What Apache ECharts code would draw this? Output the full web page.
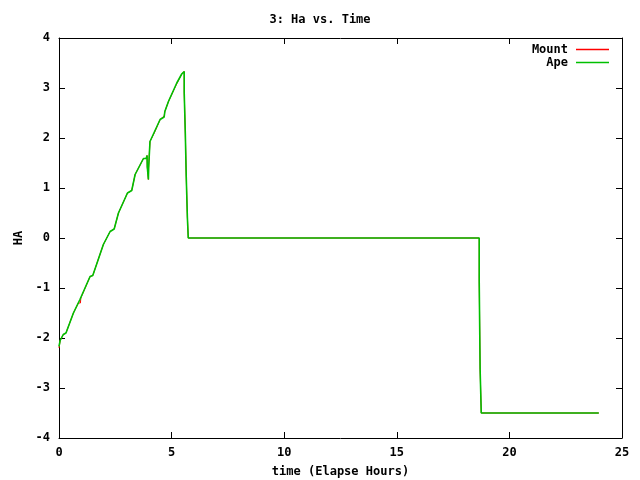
<!DOCTYPE html>
<html>
<head>
<meta charset="utf-8">
<script src="https://cdn.jsdelivr.net/npm/echarts@6/dist/echarts.min.js"></script>
<style>html,body{margin:0;padding:0;background:#fff}#c{width:640px;height:480px}</style>
</head>
<body>
<div id="c"></div>
<script>
const titleText = "3: Ha vs. Time";
const xLabel = "time (Elapse Hours)";
const yLabel = "HA";
const seriesNames = ["Mount", "Ape"];

const apeTime = [0.00,0.05,0.19,0.31,0.64,0.93,1.38,1.50,1.97,2.27,2.45,2.64,3.04,3.23,3.38,3.75,3.87,3.91,3.92,3.97,3.98,4.02,4.04,4.49,4.67,4.70,4.86,5.23,5.45,5.56,5.56,5.61,5.61,5.65,5.65,5.70,5.70,5.74,5.74,18.66,18.66,18.70,18.70,18.75,18.75,23.97];
const apeHa   = [-2.17,-2.05,-1.93,-1.90,-1.50,-1.23,-0.77,-0.75,-0.13,0.13,0.18,0.50,0.90,0.95,1.27,1.59,1.59,1.65,1.42,1.17,1.40,1.39,1.93,2.37,2.42,2.53,2.73,3.10,3.28,3.33,2.91,2.91,2.07,2.07,1.23,1.23,0.42,0.42,0.00,0.00,-0.87,-0.87,-2.63,-2.63,-3.50,-3.50];

const mountTime = [0.00,0.05,0.19,0.31,0.64,0.86,0.95,0.97,1.38,1.50,1.97,2.27,2.45,2.64,3.04,3.23,3.38,3.75,3.87,3.91,3.92,3.97,3.98,4.02,4.04,4.23,4.49,4.67,4.70,4.86,5.20,5.45,5.56,5.56,5.61,5.61,5.65,5.65,5.70,5.70,5.74,5.74,18.66,18.66,18.70,18.70,18.75,18.75,23.97];
const mountHa   = [-2.20,-2.05,-1.93,-1.90,-1.50,-1.30,-1.30,-1.20,-0.77,-0.75,-0.13,0.13,0.18,0.50,0.90,0.95,1.27,1.59,1.59,1.65,1.42,1.17,1.40,1.39,1.93,2.10,2.37,2.44,2.53,2.73,3.06,3.28,3.33,2.91,2.91,2.07,2.07,1.23,1.23,0.42,0.42,0.00,0.00,-0.87,-0.87,-2.63,-2.63,-3.50,-3.50];

const xMin = 0, xMax = 25, xStep = 5;
const yMin = -4, yMax = 4, yStep = 1;

const zip = (a, b) => a.map((v, i) => [v, b[i]]);
const font = "'DejaVu Sans Mono', monospace";
const lbl = {color:'#000', fontFamily:font, fontWeight:'bold', fontSize:12};
const colors = ['#ff0000', '#00c000'];

const chart = echarts.init(document.getElementById('c'), null, {renderer:'canvas'});
const axisCommon = {
  axisLine:{show:true, onZero:false, lineStyle:{color:'#000', width:1}},
  axisTick:{show:true, inside:true, length:6, lineStyle:{color:'#000'}},
  splitLine:{show:false}
};
chart.setOption({
  animation:false,
  backgroundColor:'#fff',
  title:{text:titleText, left:'center', top:9, textStyle:{color:'#000', fontFamily:font, fontWeight:'bold', fontSize:12}},
  legend:{
    orient:'vertical', right:26, top:38, align:'right', itemGap:0,
    itemWidth:33, itemHeight:1.5,
    textStyle:{color:'#000', fontFamily:font, fontWeight:'bold', fontSize:12, lineHeight:13, padding:[0,3,0,0]},
    data:[
      {name:seriesNames[0], icon:'rect', lineStyle:{color:colors[0], width:0, opacity:0}, itemStyle:{color:colors[0], borderWidth:0}},
      {name:seriesNames[1], icon:'rect', lineStyle:{color:colors[1], width:0, opacity:0}, itemStyle:{color:colors[1], borderWidth:0}}
    ]
  },
  grid:{left:59, right:18, top:38, bottom:42, containLabel:false, outerBoundsMode:'none'},
  xAxis:[
    Object.assign({type:'value', min:xMin, max:xMax, interval:xStep, position:'bottom',
      name:xLabel, nameLocation:'middle', nameGap:28, nameTextStyle:lbl,
      axisLabel:Object.assign({margin:9}, lbl)}, axisCommon),
    Object.assign({type:'value', min:xMin, max:xMax, interval:xStep, position:'top', axisLabel:{show:false}}, axisCommon)
  ],
  yAxis:[
    Object.assign({type:'value', min:yMin, max:yMax, interval:yStep, position:'left',
      name:yLabel, nameLocation:'middle', nameGap:25, nameRotate:90, nameTextStyle:lbl,
      axisLabel:Object.assign({margin:9}, lbl)}, axisCommon),
    Object.assign({type:'value', min:yMin, max:yMax, interval:yStep, position:'right', axisLabel:{show:false}}, axisCommon)
  ],
  series:[
    {name:seriesNames[0], type:'line', data:zip(mountTime, mountHa), showSymbol:false, color:colors[0], lineStyle:{width:1, color:colors[0]}},
    {name:seriesNames[1], type:'line', data:zip(apeTime, apeHa), showSymbol:false, color:colors[1], lineStyle:{width:1.6, color:colors[1]}}
  ]
});
</script>
</body>
</html>
